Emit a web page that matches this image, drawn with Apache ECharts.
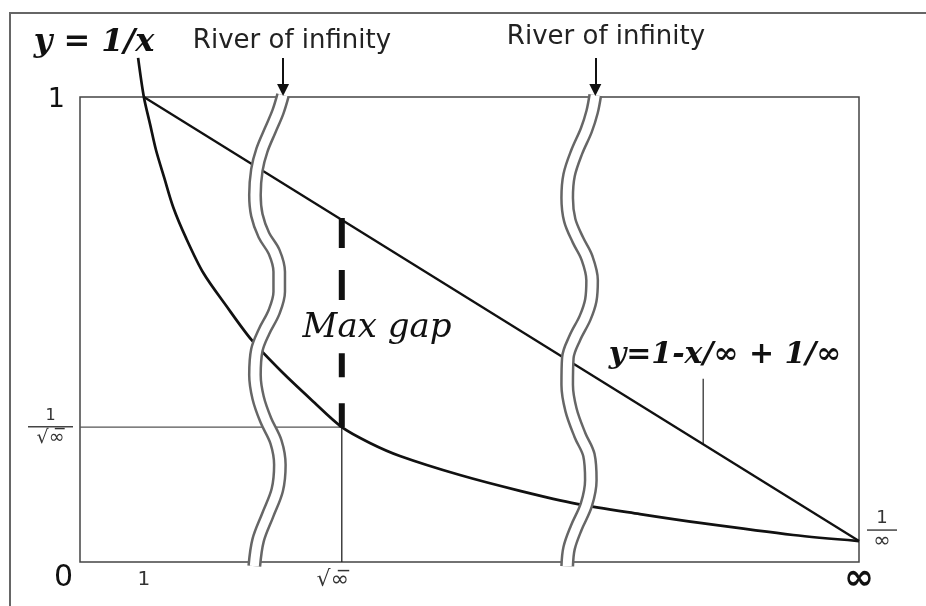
<!DOCTYPE html>
<html>
<head>
<meta charset="utf-8">
<script src="https://cdn.jsdelivr.net/npm/echarts@6/dist/echarts.min.js"></script>
<style>
html, body { margin: 0; padding: 0; background: #fff; }
#chart { width: 926px; height: 606px; }
</style>
</head>
<body>
<div id="chart"></div>
<script>
// schematic units: x from 0 to "infinity" (12.2), y from 0 to 1
var xMax = 12.2;

// y = 1/x
var curveX = [0.91, 1.0, 1.1, 1.19, 1.32, 1.46, 1.66, 1.93, 2.29, 2.69, 3.16, 3.63, 4.1, 4.54, 5.01, 5.95, 6.89, 7.78, 8.77, 9.71, 11.17, 12.2];
var curveY = [1.084, 1.0, 0.94, 0.886, 0.826, 0.763, 0.697, 0.622, 0.551, 0.477, 0.409, 0.348, 0.29, 0.256, 0.228, 0.187, 0.153, 0.125, 0.103, 0.084, 0.058, 0.045];

// y = 1 - x/inf + 1/inf
var chordX = [1.0, 12.2];
var chordY = [1.0, 0.045];

// max gap at sqrt(inf); the dash is broken by the label at gapMid
var gapX = 4.1;
var gapLow = 0.29;
var gapMid = 0.5;
var gapHigh = 0.74;

// pointer from the formula to the chord
var pointerX = 9.76;
var pointerY = [0.394, 0.254];

// the two rivers of infinity (centre lines)
var river1X = [3.18, 3.1, 2.98, 2.85, 2.77, 2.74, 2.77, 2.88, 3.04, 3.12, 3.12, 3.04, 2.88, 2.77, 2.74, 2.79, 2.91, 3.07, 3.13, 3.09, 2.94, 2.79, 2.73];
var river1Y = [1.004, 0.968, 0.929, 0.886, 0.843, 0.789, 0.746, 0.703, 0.667, 0.624, 0.581, 0.538, 0.495, 0.456, 0.402, 0.353, 0.305, 0.258, 0.209, 0.155, 0.101, 0.047, -0.009];
var river2X = [8.07, 8.02, 7.93, 7.78, 7.66, 7.63, 7.67, 7.8, 7.94, 8.02, 8.0, 7.91, 7.75, 7.64, 7.63, 7.69, 7.83, 7.97, 8.0, 7.93, 7.77, 7.66, 7.63];
var river2Y = [1.004, 0.968, 0.929, 0.882, 0.832, 0.783, 0.735, 0.692, 0.654, 0.606, 0.563, 0.525, 0.482, 0.439, 0.381, 0.327, 0.273, 0.23, 0.176, 0.123, 0.073, 0.03, -0.009];

// arrows above the rivers
var arrowX = [3.18, 8.07];
var arrowTop = 1.084;
var arrowTip = 1.015;

// tick labels
var xTicks = [1, 4.1, 12.2];
var xTickLabels = ['{a|1}', '{b|√∞\u0305}', '{c|∞}'];
var yTicks = [0, 0.29, 1];
var yTickLabels = ['{z|0}', '{n|1}\n{bar|}\n{d|√∞\u0305}', '{one|1}'];

function zip(xs, ys) {
    return xs.map(function(x, i) { return [x, ys[i]]; });
}

function plainLine(data, color, width, z, type) {
    return {
        type: 'line',
        data: data,
        showSymbol: false,
        silent: true,
        clip: false,
        z: z,
        lineStyle: { color: color, width: width, type: type || 'solid' }
    };
}

function river(xs, ys) {
    var d = zip(xs, ys);
    var outer = plainLine(d, '#666', 14, 10);
    outer.smooth = 0.35;
    var inner = plainLine(d, '#fff', 9, 11);
    inner.smooth = 0.35;
    return [outer, inner];
}

var chart = echarts.init(document.getElementById('chart'));

var curve = plainLine(zip(curveX, curveY), '#111', 2.7, 5);
curve.smooth = 0.3;
curve.endLabel = {
    show: true,
    distance: 8,
    offset: [0, -11],
    formatter: '{n|1}\n{bar|}\n{d|∞}',
    rich: {
        n: { fontFamily: 'DejaVu Sans', fontSize: 18, color: '#333', width: 30, align: 'center', lineHeight: 18 },
        bar: { width: 30, height: 1.5, backgroundColor: '#444', lineHeight: 5 },
        d: { fontFamily: 'DejaVu Sans', fontSize: 21, color: '#333', width: 30, align: 'center', lineHeight: 18 }
    }
};

var series = [
    plainLine([[0, gapLow], [gapX, gapLow]], '#555', 1.3, 3),
    plainLine([[gapX, 0], [gapX, gapLow]], '#222', 1.3, 3),
    plainLine([[gapX, gapHigh], [gapX, gapMid]], '#111', 6, 4, [30, 22]),
    plainLine([[gapX, gapLow], [gapX, gapMid]], '#111', 6, 4, [24, 26]),
    plainLine(zip([pointerX, pointerX], pointerY), '#333', 1.3, 3),
    plainLine(zip(chordX, chordY), '#111', 2.3, 5),
    curve
];
series = series.concat(river(river1X, river1Y), river(river2X, river2Y));
series.push({
    type: 'lines',
    coordinateSystem: 'cartesian2d',
    clip: false,
    silent: true,
    z: 12,
    symbol: ['none', 'triangle'],
    symbolSize: [4, 12],
    lineStyle: { color: '#111', width: 2, opacity: 1 },
    data: arrowX.map(function(x) {
        return { coords: [[x, arrowTop], [x, arrowTip]] };
    })
});

var serifText = { fontFamily: 'DejaVu Serif', fontStyle: 'italic', fill: '#111', align: 'center', verticalAlign: 'middle' };
var sansText = { fontFamily: 'DejaVu Sans', fill: '#222', align: 'center', verticalAlign: 'middle' };

function text(x, y, str, base, extra) {
    var style = Object.assign({ text: str }, base, extra);
    return { type: 'text', x: x, y: y, z: 100, style: style, silent: true };
}

chart.setOption({
    animation: false,
    backgroundColor: '#fff',
    grid: {
        left: 80, top: 97, right: 67, bottom: 44,
        show: true,
        borderColor: '#444',
        borderWidth: 1.5
    },
    xAxis: {
        type: 'value',
        min: 0,
        max: xMax,
        splitLine: { show: false },
        axisLine: { show: false },
        axisTick: { show: false },
        axisLabel: {
            customValues: xTicks,
            margin: 18,
            verticalAlign: 'middle',
            formatter: function(v) {
                return xTickLabels[xTicks.indexOf(v)] || '';
            },
            rich: {
                a: { fontFamily: 'DejaVu Sans', fontSize: 20, color: '#333' },
                b: { fontFamily: 'DejaVu Sans', fontSize: 22, color: '#333', padding: [0, 18, 0, 0] },
                c: { fontFamily: 'DejaVu Sans', fontSize: 36, fontWeight: 'bold', color: '#111' }
            }
        }
    },
    yAxis: {
        type: 'value',
        min: 0,
        max: 1,
        splitLine: { show: false },
        axisLine: { show: false },
        axisTick: { show: false },
        axisLabel: {
            customValues: yTicks,
            margin: 7,
            formatter: function(v) {
                return yTickLabels[yTicks.indexOf(v)] || '';
            },
            rich: {
                z: { fontFamily: 'DejaVu Sans', fontSize: 30, color: '#111', padding: [32, 0, 0, 0] },
                one: { fontFamily: 'DejaVu Sans', fontSize: 27, color: '#111', padding: [6, 8, 0, 0] },
                n: { fontFamily: 'DejaVu Sans', fontSize: 16, color: '#333', width: 45, align: 'center', lineHeight: 17 },
                bar: { width: 45, height: 1.5, backgroundColor: '#444', lineHeight: 5 },
                d: { fontFamily: 'DejaVu Sans', fontSize: 19, color: '#333', width: 45, align: 'center', lineHeight: 18 }
            }
        }
    },
    graphic: [
        {
            type: 'rect',
            silent: true,
            z: -10,
            shape: { x: 10, y: 13, width: 1000, height: 1000 },
            style: { fill: 'none', stroke: '#666', lineWidth: 2 }
        },
        text(94, 43, 'y = 1/x', serifText, { fontSize: 32, fontWeight: 'bold' }),
        text(292, 41, 'River of infinity', sansText, { fontSize: 26 }),
        text(606, 37, 'River of infinity', sansText, { fontSize: 26 }),
        text(377, 328, 'Max gap', serifText, { fontSize: 34, backgroundColor: '#fff', padding: [8, 4] }),
        text(725, 355, 'y=1-x/∞ + 1/∞', serifText, { fontSize: 30, fontWeight: 'bold' })
    ],
    series: series
});
</script>
</body>
</html>
